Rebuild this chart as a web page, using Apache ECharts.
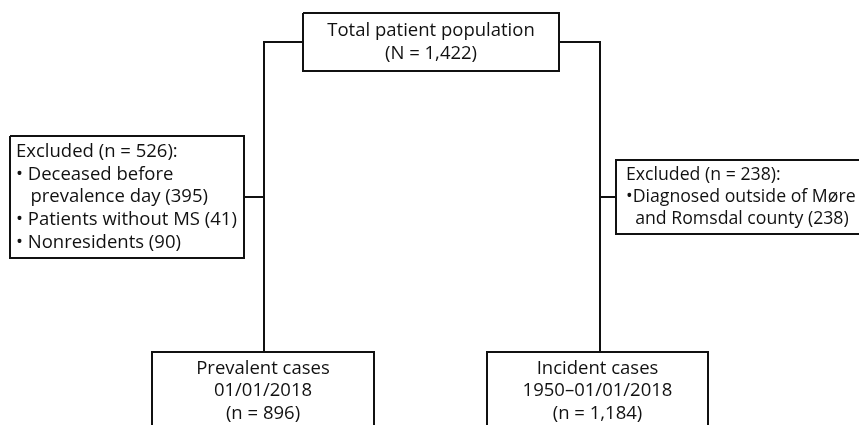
<!DOCTYPE html>
<html>
<head>
<meta charset="utf-8">
<script src="https://cdn.jsdelivr.net/npm/echarts@6/dist/echarts.min.js"></script>
<style>
  html, body { margin: 0; background: #fff; overflow: hidden; }
  #chart { width: 859px; height: 425px; }
</style>
</head>
<body>
<div id="chart"></div>
<script>
// flowchart content
const boxNames = ['total', 'excludedPrevalent', 'excludedIncident', 'prevalent', 'incident'];
const boxLines = [
  ['Total patient population', '(N = 1,422)'],
  ['Excluded (n = 526):', '• Deceased before', '   prevalence day (395)', '• Patients without MS (41)', '• Nonresidents (90)'],
  ['Excluded (n = 238):', '•Diagnosed outside of Møre', '  and Romsdal county (238)'],
  ['Prevalent cases', '01/01/2018', '(n = 896)'],
  ['Incident cases', '1950–01/01/2018', '(n = 1,184)']
];

// layout in chart units (x 0..859, y 0..425 top-down); open = side cut off by the picture edge
const boxLayout = [
  { rect: [303, 13, 559, 71], align: 'center', top: null, size: 18.5, lh: 22.7 },
  { rect: [10, 136, 244, 258], align: 'left', pad: 6, top: null, size: 18.5, lh: 22.7 },
  { rect: [616, 160, 859, 234], align: 'left', pad: 10, top: null, size: 17.7, lh: 21.7, open: 'right' },
  { rect: [152, 352, 374, 425], align: 'center', top: 5, size: 18.5, lh: 22.7, open: 'bottom' },
  { rect: [487, 352, 708, 425], align: 'center', top: 5, size: 18.5, lh: 22.7, open: 'bottom' }
];
const connectors = [
  [[303, 42], [264, 42], [264, 352]],
  [[264, 197], [244, 197]],
  [[559, 42], [600, 42], [600, 352]],
  [[600, 197], [616, 197]]
];

const ink = '#111';
const chart = echarts.init(document.getElementById('chart'));

function renderBox(params, api) {
  const i = api.value(4);
  const p0 = api.coord([api.value(0), api.value(1)]);
  const p1 = api.coord([api.value(2), api.value(3)]);
  const lay = boxLayout[i];
  const tx = lay.align === 'center' ? (p0[0] + p1[0]) / 2 : p0[0] + lay.pad;
  const ty = lay.top == null ? (p0[1] + p1[1]) / 2 : p0[1] + lay.top;
  const [x0, y0] = p0;
  const [x1, y1] = p1;
  let outline;
  if (lay.open === 'right') {
    outline = [[x1 + 5, y0], [x0, y0], [x0, y1], [x1 + 5, y1]];
  } else if (lay.open === 'bottom') {
    outline = [[x0, y1 + 5], [x0, y0], [x1, y0], [x1, y1 + 5]];
  } else {
    outline = [[x0, y0], [x1, y0], [x1, y1], [x0, y1], [x0, y0]];
  }
  return {
    type: 'group',
    children: [
      {
        type: 'polyline',
        shape: { points: outline },
        style: { fill: null, stroke: ink, lineWidth: 2, lineJoin: 'miter' }
      },
      {
        type: 'text',
        x: tx,
        y: ty,
        style: {
          text: boxLines[i].join('\n'),
          fill: ink,
          fontSize: lay.size,
          fontFamily: '"Open Sans", "Noto Sans", sans-serif',
          lineHeight: lay.lh,
          align: lay.align,
          verticalAlign: lay.top == null ? 'middle' : 'top'
        }
      }
    ]
  };
}

chart.setOption({
  animation: false,
  backgroundColor: '#fff',
  grid: { left: 0, right: 0, top: 0, bottom: 0 },
  xAxis: { type: 'value', min: 0, max: 859, show: false },
  yAxis: { type: 'value', min: 0, max: 425, inverse: true, show: false },
  series: [
    {
      type: 'lines',
      coordinateSystem: 'cartesian2d',
      polyline: true,
      silent: true,
      lineStyle: { color: ink, width: 2, opacity: 1 },
      data: connectors.map(c => ({ coords: c }))
    },
    {
      type: 'custom',
      name: 'boxes',
      clip: false,
      renderItem: renderBox,
      data: boxLayout.map((b, i) => ({ name: boxNames[i], value: [...b.rect, i] }))
    }
  ]
});
</script>
</body>
</html>
